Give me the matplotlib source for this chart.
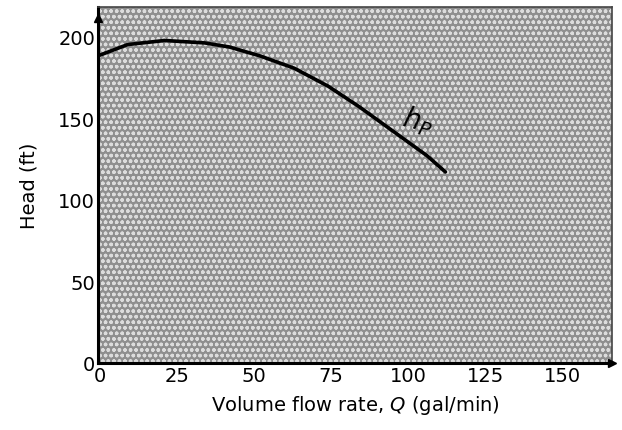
import numpy as np
import matplotlib
matplotlib.use("Agg")
from matplotlib import pyplot as plt

## DATA
flow_q = [0, 9, 21, 34, 42, 52, 63, 74, 84, 95, 106, 112]          # gal/min
head_h = [188.5, 195, 197.5, 196, 193.5, 188, 180.5, 169.5, 157, 142, 127, 117]   # ft
x_ticks = [0, 25, 50, 75, 100, 125, 150]
y_ticks = [0, 50, 100, 150, 200]

fig = plt.figure(figsize=(6.22, 4.31), dpi=100)
ax = fig.add_axes([98/622, 1 - 364/431, (612-98)/622, (364-8)/431])

# stippled textbook background, roughly
ax.set_facecolor('#8f8f8f')
ax.add_patch(plt.Rectangle((0, 0), 1, 1, transform=ax.transAxes, facecolor='none',
                           edgecolor='#dcdcdc', hatch='ooo', linewidth=0, zorder=0))

ax.plot(flow_q, head_h, color='black', lw=2.6, solid_capstyle='round', zorder=3)
ax.text(103, 149, '$h_P$', fontsize=20, rotation=-15, ha='center', va='center', zorder=4)

ax.set_xlim(-0.6, 166)
ax.set_ylim(0, 218)
ax.set_xticks(x_ticks)
ax.set_yticks(y_ticks)
ax.tick_params(length=0, labelsize=14, pad=2)

for side in ['left', 'bottom']:
    ax.spines[side].set_linewidth(2.2)
for side in ['top', 'right']:
    ax.spines[side].set_linewidth(1.2)
    ax.spines[side].set_color('#444444')

# little arrow heads at the axis ends
ax.plot(1, 0, '>', color='black', ms=6, transform=ax.transAxes, clip_on=False, zorder=5)
ax.plot(0, 0.97, '^', color='black', ms=6, transform=ax.transAxes, clip_on=False, zorder=5)

ax.set_xlabel('Volume flow rate, $Q$ (gal/min)', fontsize=14, labelpad=6)
ax.set_ylabel('Head (ft)', fontsize=14, labelpad=14)

fig.savefig('out.png', dpi=100)
